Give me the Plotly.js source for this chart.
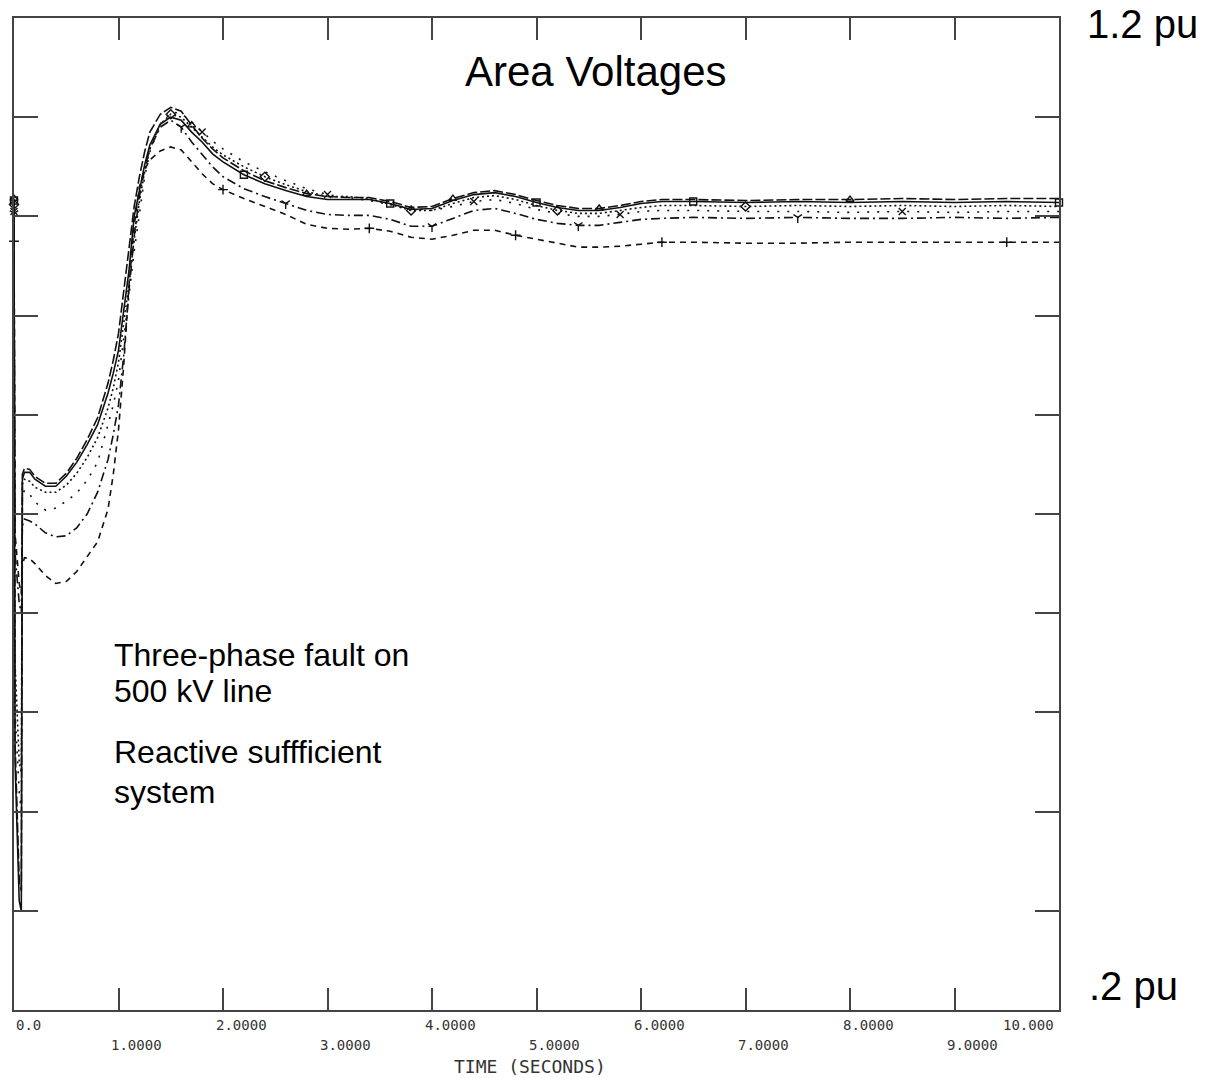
<!DOCTYPE html>
<html>
<head>
<meta charset="utf-8">
<script src="https://cdn.plot.ly/plotly-3.0.1.min.js"></script>
<style>html,body{margin:0;padding:0;background:#fff;}#chart{width:1205px;height:1078px;}</style>
</head>
<body>
<div id="chart"></div>
<script>
// ---- data ----
const timeSec = [0, 0.01, 0.05, 0.07, 0.08, 0.1, 0.15, 0.2, 0.3, 0.4, 0.5, 0.6, 0.7, 0.8, 0.9, 0.95, 1.0, 1.05, 1.1, 1.15, 1.2, 1.25, 1.3, 1.4, 1.5, 1.6, 1.7, 1.8, 1.9, 2.0, 2.2, 2.4, 2.6, 2.8, 3.0, 3.2, 3.4, 3.6, 3.8, 4.0, 4.2, 4.4, 4.6, 4.8, 5.0, 5.2, 5.4, 5.6, 5.8, 6.0, 6.2, 6.5, 7.0, 7.5, 8.0, 8.5, 9.0, 9.5, 10.0];

const vSolid = [1.016, 0.45, 0.31, 0.30, 0.735, 0.742, 0.742, 0.735, 0.728, 0.728, 0.738, 0.752, 0.77, 0.79, 0.822, 0.842, 0.865, 0.905, 0.945, 1.0, 1.028, 1.052, 1.072, 1.093, 1.100, 1.097, 1.085, 1.075, 1.063, 1.055, 1.042, 1.033, 1.026, 1.02, 1.017, 1.017, 1.017, 1.013, 1.007, 1.008, 1.016, 1.022, 1.024, 1.02, 1.014, 1.009, 1.006, 1.006, 1.009, 1.013, 1.015, 1.015, 1.014, 1.015, 1.014, 1.015, 1.014, 1.015, 1.014];

const vLongDash = [1.018, 0.47, 0.33, 0.32, 0.74, 0.746, 0.745, 0.738, 0.731, 0.731, 0.741, 0.756, 0.775, 0.797, 0.832, 0.855, 0.882, 0.925, 0.965, 1.01, 1.04, 1.065, 1.085, 1.103, 1.110, 1.106, 1.092, 1.079, 1.068, 1.059, 1.046, 1.036, 1.029, 1.023, 1.02, 1.019, 1.019, 1.015, 1.009, 1.01, 1.018, 1.024, 1.026, 1.022, 1.016, 1.011, 1.008, 1.008, 1.011, 1.015, 1.017, 1.017, 1.016, 1.017, 1.017, 1.018, 1.017, 1.018, 1.018];

const vDenseDot = [1.012, 0.55, 0.45, 0.44, 0.73, 0.735, 0.733, 0.727, 0.722, 0.722, 0.729, 0.741, 0.757, 0.777, 0.807, 0.827, 0.853, 0.892, 0.932, 0.977, 1.015, 1.045, 1.068, 1.093, 1.103, 1.100, 1.090, 1.080, 1.070, 1.062, 1.050, 1.040, 1.032, 1.025, 1.020, 1.020, 1.018, 1.012, 1.006, 1.006, 1.013, 1.019, 1.021, 1.017, 1.011, 1.006, 1.003, 1.003, 1.006, 1.009, 1.011, 1.011, 1.010, 1.011, 1.010, 1.011, 1.010, 1.011, 1.010];

const vSparseDot = [1.005, 0.5, 0.42, 0.40, 0.718, 0.724, 0.72, 0.712, 0.704, 0.706, 0.713, 0.721, 0.734, 0.752, 0.79, 0.81, 0.835, 0.875, 0.92, 0.965, 1.005, 1.04, 1.065, 1.093, 1.105, 1.104, 1.095, 1.085, 1.076, 1.068, 1.055, 1.045, 1.036, 1.028, 1.022, 1.019, 1.016, 1.012, 1.008, 1.006, 1.010, 1.015, 1.017, 1.013, 1.007, 1.003, 1.000, 1.000, 1.002, 1.005, 1.006, 1.006, 1.005, 1.005, 1.004, 1.005, 1.004, 1.005, 1.005];

const vDashDot = [1.003, 0.66, 0.61, 0.60, 0.688, 0.695, 0.693, 0.69, 0.681, 0.677, 0.678, 0.686, 0.70, 0.722, 0.755, 0.78, 0.81, 0.86, 0.925, 0.98, 1.02, 1.048, 1.068, 1.09, 1.097, 1.09, 1.075, 1.062, 1.05, 1.04, 1.028, 1.02, 1.013, 1.006, 1.002, 1.001, 1.001, 0.997, 0.99, 0.99, 0.998, 1.006, 1.008, 1.003, 0.997, 0.993, 0.991, 0.991, 0.994, 0.997, 0.998, 0.999, 0.998, 0.999, 0.998, 0.998, 0.999, 0.998, 0.999];

const vDashed = [0.975, 0.68, 0.63, 0.62, 0.648, 0.656, 0.655, 0.65, 0.638, 0.63, 0.632, 0.642, 0.657, 0.672, 0.705, 0.74, 0.785, 0.85, 0.93, 0.99, 1.03, 1.047, 1.057, 1.066, 1.07, 1.067, 1.055, 1.043, 1.033, 1.027, 1.018, 1.01, 1.002, 0.992, 0.988, 0.987, 0.988, 0.985, 0.979, 0.977, 0.981, 0.986, 0.986, 0.981, 0.977, 0.973, 0.969, 0.969, 0.970, 0.972, 0.974, 0.974, 0.973, 0.973, 0.974, 0.974, 0.974, 0.974, 0.974];

const xTickValues = [0, 1, 2, 3, 4, 5, 6, 7, 8, 9, 10];
const xTickLabels = ["0.0", "1.0000", "2.0000", "3.0000", "4.0000", "5.0000", "6.0000", "7.0000", "8.0000", "9.0000", "10.000"];

const titleText = "Area Voltages";
const xAxisTitle = "TIME (SECONDS)";
const yTopLabel = "1.2 pu";
const yBottomLabel = ".2 pu";
const note1 = ["Three-phase fault on", "500 kV line"];
const note2 = ["Reactive suffficient", "system"];

// ---- styling ----
const INK = "#111";
const FRAME = "#444";
const series = [
  {y: vSolid,     dash: "solid",             sym: "square-open",       off: 2},
  {y: vLongDash,  dash: "10px,3px",          sym: "triangle-up-open",  off: 5},
  {y: vDenseDot,  dash: "2px,3px",           sym: "diamond-open",      off: 3},
  {y: vSparseDot, dash: "2px,8px",           sym: "x-thin-open",       off: 6},
  {y: vDashDot,   dash: "9px,4px,2px,4px",   sym: "y-down-open",       off: 4},
  {y: vDashed,    dash: "6px,5px",           sym: "cross-thin-open",   off: 1}
];

const traces = [];
series.forEach(s => {
  traces.push({
    x: timeSec, y: s.y, type: "scatter", mode: "lines",
    line: {color: INK, width: 1.6, dash: s.dash},
    hoverinfo: "skip", showlegend: false
  });
  const mx = [], my = [];
  timeSec.forEach((t, i) => {
    if (i === 0 || (i >= 24 && (i - s.off) % 7 === 0)) { mx.push(t); my.push(s.y[i]); }
  });
  traces.push({
    x: mx, y: my, type: "scatter", mode: "markers",
    marker: {symbol: s.sym, size: 7, color: INK, line: {color: INK, width: 1.4}},
    hoverinfo: "skip", showlegend: false, cliponaxis: false
  });
});

const L = 14, R = 146, T = 18, B = 68;
const plotW = 1205 - L - R, plotH = 1078 - T - B;
const px = v => (v - L) / plotW;      // page pixel -> paper x
const py = v => 1 - (v - T) / plotH;  // page pixel -> paper y

const annotations = [];
xTickValues.forEach((v, i) => {
  const last = i === xTickValues.length - 1;
  annotations.push({
    x: v, xref: "x", y: 0, yref: "paper",
    text: xTickLabels[i], showarrow: false,
    xanchor: i === 0 ? "left" : (last ? "right" : "center"),
    xshift: i === 0 ? 0 : (last ? -3 : 18),
    yanchor: "middle", yshift: i % 2 === 0 ? -15 : -35,
    font: {family: "DejaVu Sans Mono", size: 14, color: "#333"}
  });
});
annotations.push({
  x: px(530), xref: "paper", y: 0, yref: "paper", text: xAxisTitle, showarrow: false,
  xanchor: "center", yanchor: "middle", yshift: -56,
  font: {family: "DejaVu Sans Mono", size: 18, color: "#333"}
});
annotations.push({
  x: px(596), xref: "paper", y: 1, yref: "paper", text: titleText, showarrow: false,
  xanchor: "center", yanchor: "middle", yshift: -53,
  font: {family: "Liberation Sans, Arial", size: 42, color: "#000"}
});
annotations.push({
  x: px(1085), xref: "paper", y: 1, yref: "paper", text: yTopLabel, showarrow: false,
  xanchor: "left", yanchor: "middle", yshift: -6,
  font: {family: "Liberation Sans, Arial", size: 40, color: "#000"}
});
annotations.push({
  x: px(1087), xref: "paper", y: 0, yref: "paper", text: yBottomLabel, showarrow: false,
  xanchor: "left", yanchor: "middle", yshift: 24,
  font: {family: "Liberation Sans, Arial", size: 40, color: "#000"}
});
const noteLines = [[note1[0], 655], [note1[1], 691], [note2[0], 752], [note2[1], 792]];
noteLines.forEach(([txt, ypix]) => {
  annotations.push({
    x: px(112), xref: "paper", y: py(ypix), yref: "paper", text: txt, showarrow: false,
    xanchor: "left", yanchor: "middle",
    font: {family: "Liberation Sans, Arial", size: 32, color: "#000"}
  });
});

const layout = {
  width: 1205, height: 1078,
  margin: {l: L, r: R, t: T, b: B, pad: 0},
  paper_bgcolor: "#fff", plot_bgcolor: "#fff",
  showlegend: false,
  xaxis: {
    range: [0, 10], tickmode: "array", tickvals: xTickValues,
    showticklabels: false, ticks: "inside", ticklen: 22, tickwidth: 2, tickcolor: FRAME,
    showline: true, linecolor: FRAME, linewidth: 2, mirror: "ticks",
    showgrid: false, zeroline: false, fixedrange: true
  },
  yaxis: {
    range: [0.2, 1.2], tick0: 0.2, dtick: 0.1,
    showticklabels: false, ticks: "inside", ticklen: 24, tickwidth: 2, tickcolor: FRAME,
    showline: true, linecolor: FRAME, linewidth: 2, mirror: "ticks",
    showgrid: false, zeroline: false, fixedrange: true
  },
  annotations: annotations
};

Plotly.newPlot("chart", traces, layout, {staticPlot: true, displayModeBar: false});
</script>
</body>
</html>
